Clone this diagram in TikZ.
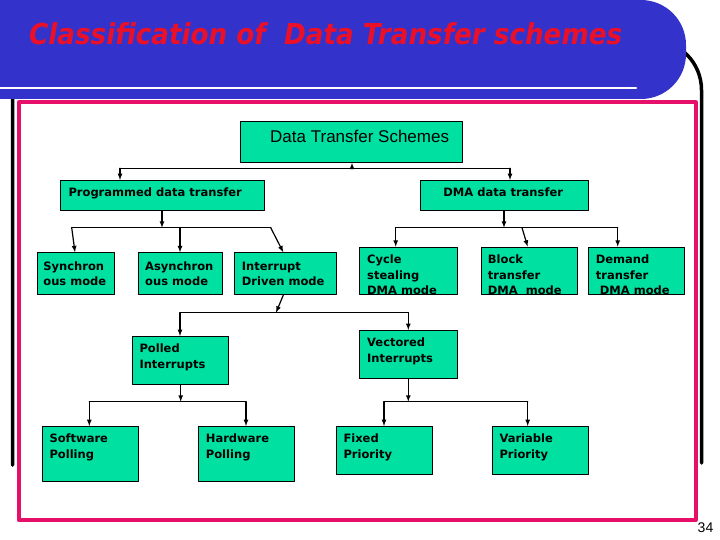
\documentclass[tikz,border=0pt]{standalone}
\usepackage{fontspec}
\setmainfont{DejaVu Sans}
\newfontfamily\titlefont[FakeStretch=0.91]{DejaVu Sans}
\newfontfamily\plainfont{Liberation Sans}
\definecolor{banner}{RGB}{51,51,204}
\definecolor{framepink}{RGB}{230,16,106}
\definecolor{boxgreen}{RGB}{0,224,160}
\definecolor{titlered}{RGB}{235,16,40}
\tikzset{
  box/.style={draw=black, fill=boxgreen, line width=0.8pt, inner sep=0pt, anchor=north west},
  txt/.style={anchor=north west, align=left, inner sep=0pt, font=\fontsize{11.5}{15.5}\selectfont\bfseries},
  link/.style={line width=1.2pt},
}
\begin{document}
\begin{tikzpicture}[x=1pt, y=-1pt, line cap=round, line join=round, >=latex]
\useasboundingbox (0,0) rectangle (720,540);
% slide decoration
\draw[line width=3.5pt, rounded corners=50pt] (12.5,465) -- (12.5,40) -- (701.5,40) -- (701.5,463);
\fill[banner, rounded corners=45pt] (-60,0) rectangle (686,99);
\draw[white, line width=2.5pt] (0,88) -- (636,88);
\draw[framepink, fill=white, line width=4pt] (18.7,102.5) rectangle (695.5,520);
\node[anchor=base west, inner sep=0pt, text=titlered, font=\titlefont\bfseries\itshape\fontsize{28.8}{30}\selectfont] (title) at (29,45) {Classification of\ \ Data Transfer schemes};
\node[font=\plainfont\fontsize{14}{14}\selectfont, inner sep=0pt] (page) at (705.5,528) {34};
% boxes
\node[box, minimum width=222pt, minimum height=41pt] (top) at (240,121) {};
\node[box, minimum width=204pt, minimum height=30pt] (prog) at (60.3,180) {};
\node[box, minimum width=168pt, minimum height=30pt] (dma) at (420.3,180) {};
\node[box, minimum width=77.6pt, minimum height=42pt] (syn) at (36.7,252.3) {};
\node[box, minimum width=84pt, minimum height=42pt] (asyn) at (138.3,252.3) {};
\node[box, minimum width=101.7pt, minimum height=42pt] (intr) at (234.3,252.3) {};
\node[box, minimum width=97.7pt, minimum height=47.6pt] (cyc) at (359,246.7) {};
\node[box, minimum width=96pt, minimum height=47.6pt] (blk) at (480.7,246.7) {};
\node[box, minimum width=96pt, minimum height=47.6pt] (dem) at (588.3,246.7) {};
\node[box, minimum width=96pt, minimum height=48.3pt] (pol) at (132.3,336) {};
\node[box, minimum width=97.7pt, minimum height=48.3pt] (vec) at (359,330) {};
\node[box, minimum width=96pt, minimum height=54.7pt] (sw) at (42.3,426) {};
\node[box, minimum width=96pt, minimum height=54.7pt] (hw) at (198.3,426) {};
\node[box, minimum width=96.3pt, minimum height=48pt] (fix) at (336,426) {};
\node[box, minimum width=96pt, minimum height=48pt] (var) at (492.3,426) {};
% labels
\node[anchor=base west, inner sep=0pt, font=\plainfont\fontsize{17}{20}\selectfont] (topt) at ([shift={(30,21.3)}]top.north west) {Data Transfer Schemes};
\node[txt] (progt) at ([shift={(8,5.85)}]prog.north west) {\strut Programmed data transfer};
\node[anchor=base, inner sep=0pt, font=\fontsize{11.5}{15.5}\selectfont\bfseries] (dmat) at ([shift={(-1.5,16.7)}]dma.north) {DMA data transfer};
\node[txt] (synt) at ([shift={(6.5,7)}]syn.north west) {\strut Synchron\\ous mode};
\node[txt] (asynt) at ([shift={(6.7,7)}]asyn.north west) {\strut Asynchron\\ous mode};
\node[txt] (intrt) at ([shift={(7.4,7)}]intr.north west) {\strut Interrupt\\Driven mode};
\node[txt] (cyct) at ([shift={(8,5.85)}]cyc.north west) {\strut Cycle\\stealing\\DMA mode};
\node[txt] (blkt) at ([shift={(7,5.85)}]blk.north west) {\strut Block\\transfer\\DMA\ \ mode};
\node[txt] (demt) at ([shift={(7.4,5.85)}]dem.north west) {\strut Demand\\transfer\\\ DMA mode};
\node[txt] (polt) at ([shift={(7,5.85)}]pol.north west) {\strut Polled\\Interrupts};
\node[txt] (vect) at ([shift={(8,5.85)}]vec.north west) {\strut Vectored\\Interrupts};
\node[txt] (swt) at ([shift={(7,5.85)}]sw.north west) {\strut Software\\Polling};
\node[txt] (hwt) at ([shift={(7.4,5.85)}]hw.north west) {\strut Hardware\\Polling};
\node[txt] (fixt) at ([shift={(7.3,5.85)}]fix.north west) {\strut Fixed\\Priority};
\node[txt] (vart) at ([shift={(7,5.85)}]var.north west) {\strut Variable\\Priority};
% bus points
\coordinate (b1l) at (120,168.3);
\coordinate (b1r) at (510,168.3);
\coordinate (b1m) at (352,168.3);
\coordinate (b2l) at (71.7,227.7);
\coordinate (b2r) at (270.7,227.7);
\coordinate (b3l) at (395.7,227.7);
\coordinate (b3m) at (522,227.7);
\coordinate (b3r) at (617.7,227.7);
\coordinate (b4l) at (180,312.7);
\coordinate (b4r) at (408.3,312.7);
\coordinate (b4m) at (276,312.7);
\coordinate (b5l) at (89.3,401.7);
\coordinate (b5r) at (246,401.7);
\coordinate (b6l) at (384,401.7);
\coordinate (b6r) at (527.7,401.7);
% connectors
\draw[link] (b1l) -- (b1r);
\draw[link,->] (b1m) -- (b1m |- top.south);
\draw[link,->] (b1l) -- (b1l |- prog.north);
\draw[link,->] (b1r) -- (b1r |- dma.north);
\draw[link] (b2l) -- (b2r);
\draw[link,->] (prog.south -| 162,0) -- (162,227.7);
\draw[link,->] (b2l) -- ([xshift=3.3pt]syn.north -| b2l);
\draw[link,->] (180,227.7) -- (asyn.north -| 180,0);
\draw[link,->] (b2r) -- ([xshift=12.6pt]intr.north -| b2r);
\draw[link] (b3l) -- (b3r);
\draw[link,->] (dma.south -| 504,0) -- (504,227.7);
\draw[link,->] (b3l) -- (b3l |- cyc.north);
\draw[link,->] (b3m) -- ([xshift=5.7pt]blk.north -| b3m);
\draw[link,->] (b3r) -- (b3r |- dem.north);
\draw[link,->] (intr.south -| 283.3,0) -- (b4m);
\draw[link] (b4l) -- (b4r);
\draw[link,->] (b4l) -- (b4l |- pol.north);
\draw[link,->] (b4r) -- (b4r |- vec.north);
\draw[link] (b5l) -- (b5r);
\draw[link,->] (pol.south) -- (pol.south |- b5l);
\draw[link,->] (b5l) -- (b5l |- sw.north);
\draw[link,->] (b5r) -- (b5r |- hw.north);
\draw[link] (b6l) -- (b6r);
\draw[link,->] (vec.south -| b4r) -- (b4r |- b6l);
\draw[link,->] (b6l) -- (b6l |- fix.north);
\draw[link,->] (b6r) -- (b6r |- var.north);
\end{tikzpicture}
\end{document}
